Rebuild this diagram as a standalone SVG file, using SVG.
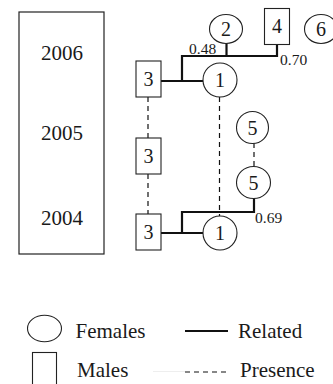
<svg xmlns="http://www.w3.org/2000/svg" width="333" height="384" viewBox="0 0 333 384" font-family="'Liberation Serif', 'DejaVu Serif', serif">
<style>
  .yr { font-size: 21px; text-anchor: middle; fill: #1a1a1a; }
  .num { font-size: 20px; text-anchor: middle; fill: #1a1a1a; }
  .lab { font-size: 15.5px; fill: #1a1a1a; }
  .leg { font-size: 21px; fill: #1a1a1a; }
  .node { fill: #fff; stroke: #222; stroke-width: 1.1; }
  .rel { fill: none; stroke: #111; stroke-width: 2.2; }
  .pres { fill: none; stroke: #111; stroke-width: 1.2; stroke-dasharray: 5 4; }
</style>
<rect width="333" height="384" fill="#fff"/>
<g id="years">
  <rect x="19" y="12" width="85" height="242" fill="none" stroke="#222" stroke-width="1.2"/>
  <text class="yr" x="62" y="60" font-family="Liberation Serif">2006</text>
  <text class="yr" x="62" y="140" font-family="Liberation Serif">2005</text>
  <text class="yr" x="62" y="225" font-family="Liberation Serif">2004</text>
</g>
<g id="connectors">
  <line class="pres" x1="148" y1="97" x2="148" y2="138"/>
  <line class="pres" x1="148" y1="174" x2="148" y2="214"/>
  <line class="pres" x1="219.5" y1="97" x2="219.5" y2="216"/>
  <line class="pres" x1="254" y1="143" x2="254" y2="167"/>
  <polyline class="rel" points="161,81 203,81"/>
  <polyline class="rel" points="182,81 182,56 277,56 277,44"/>
  <line class="rel" x1="226.5" y1="56" x2="226.5" y2="43"/>
  <polyline class="rel" points="161,233 203,233"/>
  <polyline class="rel" points="182,233 182,212 254,212 254,198"/>
</g>
<g id="labels" font-family="Liberation Serif">
  <text class="lab" x="189" y="54">0.48</text>
  <text class="lab" x="280" y="65">0.70</text>
  <text class="lab" x="255" y="223">0.69</text>
</g>
<g id="n2"><ellipse class="node" cx="226" cy="29" rx="16.5" ry="14.5"/><text class="num" x="226" y="36">2</text></g>
<g id="n4"><rect class="node" x="264.5" y="8.5" width="25" height="36"/><text class="num" x="277" y="33">4</text></g>
<g id="n6"><ellipse class="node" cx="321" cy="29" rx="16.5" ry="14.5"/><text class="num" x="321" y="36">6</text></g>
<g id="n3_2006"><rect class="node" x="136" y="61" width="25" height="36"/><text class="num" x="148.5" y="86">3</text></g>
<g id="n1_2006"><ellipse class="node" cx="220" cy="80" rx="17" ry="17"/><text class="num" x="220" y="87">1</text></g>
<g id="n3_2005"><rect class="node" x="136" y="138" width="25" height="36"/><text class="num" x="148.5" y="163">3</text></g>
<g id="n5_2005"><ellipse class="node" cx="252.5" cy="127.5" rx="16" ry="16"/><text class="num" x="252.5" y="134.5">5</text></g>
<g id="n5_2004"><ellipse class="node" cx="253.5" cy="182.5" rx="17" ry="16"/><text class="num" x="253.5" y="189.5">5</text></g>
<g id="n3_2004"><rect class="node" x="136" y="214" width="25" height="36"/><text class="num" x="148.5" y="239">3</text></g>
<g id="n1_2004"><ellipse class="node" cx="220" cy="233" rx="17" ry="17"/><text class="num" x="220" y="240">1</text></g>
<g id="legend">
  <ellipse class="node" cx="44.5" cy="328.5" rx="17" ry="13.3"/>
  <text class="leg" x="75.5" y="338">Females</text>
  <rect class="node" x="32.5" y="352.5" width="24" height="40"/>
  <text class="leg" x="77" y="377">Males</text>
  <line class="rel" x1="185" y1="331" x2="228" y2="331"/>
  <text class="leg" x="238" y="338">Related</text>
  <line x1="153" y1="371.5" x2="185" y2="371.5" stroke="#eeeeee" stroke-width="1"/>
  <line class="pres" x1="185" y1="372" x2="228" y2="372"/>
  <text class="leg" x="240" y="377">Presence</text>
</g>
</svg>
